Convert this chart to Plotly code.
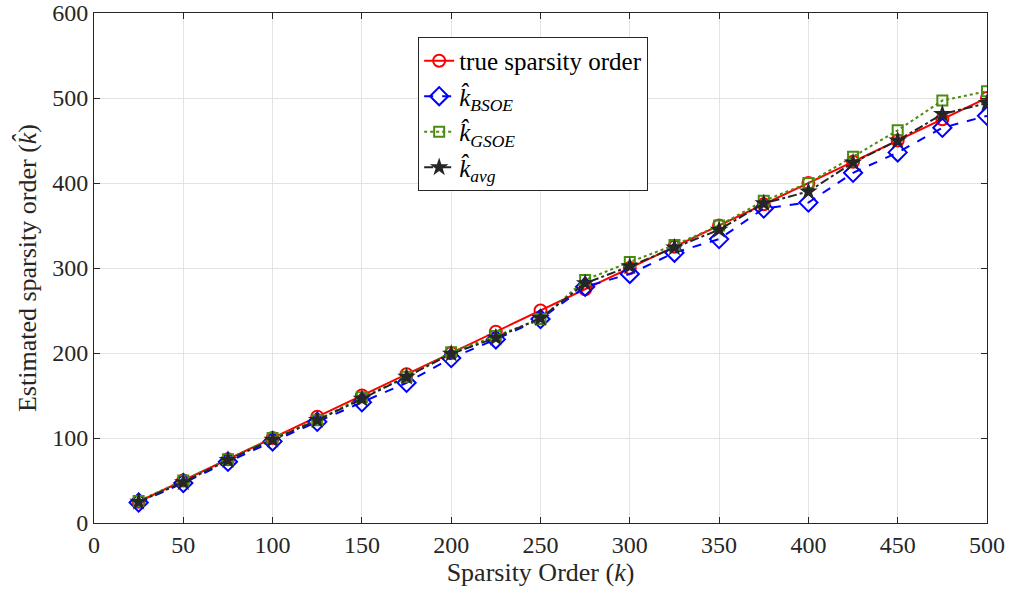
import plotly.graph_objects as go

k = [25, 50, 75, 100, 125, 150, 175, 200, 225, 250, 275, 300, 325, 350, 375, 400, 425, 450, 475, 500]
true_k = [25, 50, 75, 100, 125, 150, 175, 200, 225, 250, 275, 300, 325, 350, 375, 400, 425, 450, 475, 500]
bsoe = [24, 47, 72, 96, 119, 142, 165, 194, 216, 240, 278, 293, 318, 334, 370, 377, 412, 436, 465, 479]
gsoe = [26, 50, 75, 100, 121, 148, 172, 201, 220, 240, 286, 307, 327, 350, 379, 400, 431, 462, 497, 508]
avg = [25, 48, 74, 98, 121, 146, 172, 199, 218, 241, 282, 302, 324, 345, 376, 390, 424, 450, 481, 494]

xticks = [0, 50, 100, 150, 200, 250, 300, 350, 400, 450, 500]
yticks = [0, 100, 200, 300, 400, 500, 600]

FONT = "Liberation Serif, Times New Roman, serif"

fig = go.Figure()
fig.add_trace(go.Scatter(x=k, y=true_k, mode="lines+markers", name="true sparsity order",
                         line=dict(color="#ff0000", width=2),
                         marker=dict(symbol="circle-open", size=12, color="#ff0000", line=dict(width=2))))
fig.add_trace(go.Scatter(x=k, y=bsoe, mode="lines+markers", name="<i>k̂</i><sub><i>BSOE</i></sub>",
                         line=dict(color="#0000ff", width=2, dash="dash"),
                         marker=dict(symbol="diamond-open", size=14, color="#0000ff", line=dict(width=2))))
fig.add_trace(go.Scatter(x=k, y=gsoe, mode="lines+markers", name="<i>k̂</i><sub><i>GSOE</i></sub>",
                         line=dict(color="#4d8a10", width=2, dash="dot"),
                         marker=dict(symbol="square-open", size=10, color="#4d8a10", line=dict(width=2))))
fig.add_trace(go.Scatter(x=k, y=avg, mode="lines+markers", name="<i>k̂</i><sub><i>avg</i></sub>",
                         line=dict(color="#262626", width=2, dash="dashdot"),
                         marker=dict(symbol="star", size=14, color="#262626")))

axis_common = dict(showline=True, linecolor="#262626", linewidth=1, mirror="ticks",
                   ticks="inside", ticklen=6, tickcolor="#262626", automargin=False,
                   showgrid=True, gridcolor="#e3e3e3", gridwidth=1, zeroline=False,
                   tickfont=dict(family=FONT, size=24, color="#262626"))

fig.update_xaxes(range=[0, 500], tickvals=xticks, ticktext=[str(t) for t in xticks],
                 title=dict(text="Sparsity Order (<i>k</i>)", font=dict(family=FONT, size=26, color="#262626"),
                            standoff=0), **axis_common)
fig.update_yaxes(range=[0, 600], tickvals=yticks, ticktext=[str(t) for t in yticks],
                 title=dict(text="Estimated sparsity order (<i>k̂</i>)", font=dict(family=FONT, size=26, color="#262626"),
                            standoff=8), **axis_common)

fig.update_layout(
    width=1015, height=594,
    margin=dict(l=94, r=28, t=13, b=71),
    plot_bgcolor="white", paper_bgcolor="white",
    font=dict(family=FONT, color="#262626"),
    legend=dict(x=0.363, y=0.953, xanchor="left", yanchor="top",
                bgcolor="white", bordercolor="#262626", borderwidth=1,
                font=dict(family=FONT, size=25, color="#000000"),
                tracegroupgap=0, itemwidth=30),
    showlegend=True,
)

fig.write_html("out.html")
